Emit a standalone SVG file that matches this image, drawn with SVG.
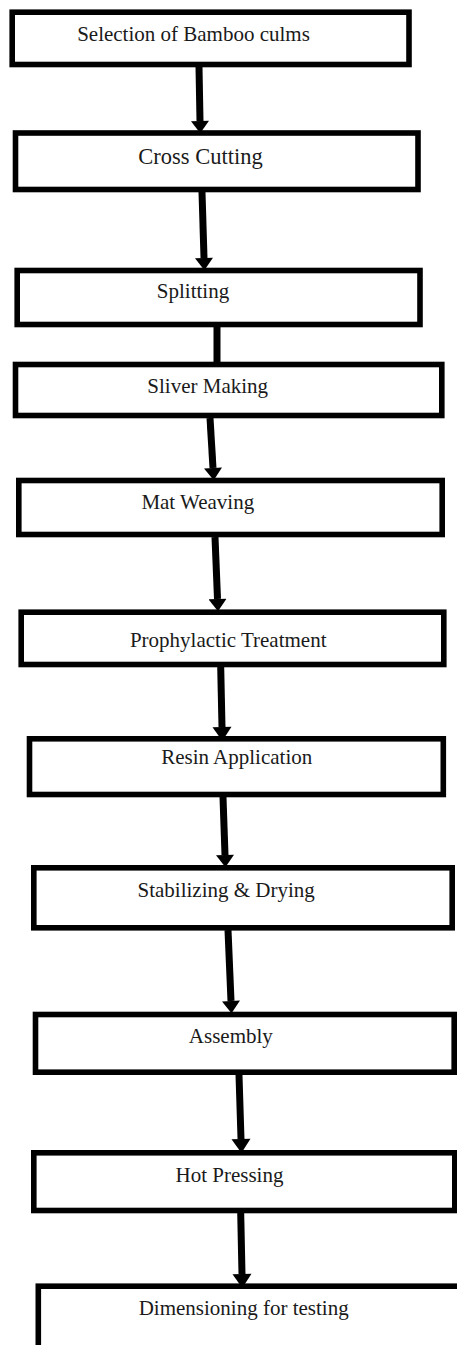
<svg xmlns="http://www.w3.org/2000/svg" width="457" height="1345" viewBox="0 0 457 1345">
<style>
.box{fill:#fff;stroke:#000;stroke-width:5.6}
.lbl{font-family:"Liberation Serif","Times New Roman",serif;font-size:21px;fill:#1a1a1a;text-anchor:middle}
.con{stroke:#000;stroke-width:7;fill:none}
</style>
<defs>
<marker id="hs" markerUnits="userSpaceOnUse" markerWidth="14" markerHeight="18" viewBox="0 -8 11 16" refX="0" refY="0" orient="auto"><path d="M0,-8 L11,0 L0,8 z" fill="#000"/></marker>
<marker id="hl" markerUnits="userSpaceOnUse" markerWidth="16" markerHeight="20" viewBox="0 -10 14 20" refX="0" refY="0" orient="auto"><path d="M0,-9.5 L14,0 L0,9.5 z" fill="#000"/></marker>
</defs>
<rect width="457" height="1345" fill="#fff"/>
<g id="n1"><rect class="box" x="12.2" y="12.2" width="396.8" height="52.3"/><text class="lbl" x="193.5" y="41">Selection of Bamboo culms</text></g>
<g id="n2"><rect class="box" x="15.5" y="133" width="402.5" height="56.5"/><text class="lbl" x="200.5" y="164" style="font-size:22.5px">Cross Cutting</text></g>
<g id="n3"><rect class="box" x="17.2" y="270.5" width="402.8" height="54"/><text class="lbl" x="193" y="298.3">Splitting</text></g>
<g id="n4"><rect class="box" x="15.5" y="364.5" width="426.3" height="51"/><text class="lbl" x="207.7" y="393.3">Sliver Making</text></g>
<g id="n5"><rect class="box" x="18.8" y="480.5" width="423.4" height="54"/><text class="lbl" x="197.8" y="509.3">Mat Weaving</text></g>
<g id="n6"><rect class="box" x="21.2" y="612.2" width="422.6" height="52.3"/><text class="lbl" x="228.2" y="646.7">Prophylactic Treatment</text></g>
<g id="n7"><rect class="box" x="29.5" y="738.8" width="413.8" height="55.7"/><text class="lbl" x="236.7" y="764">Resin Application</text></g>
<g id="n8"><rect class="box" x="33.8" y="867.8" width="418.4" height="60"/><text class="lbl" x="226.2" y="896.7">Stabilizing &amp; Drying</text></g>
<g id="n9"><rect class="box" x="35.5" y="1014.5" width="418.7" height="57.7"/><text class="lbl" x="230.8" y="1042.7">Assembly</text></g>
<g id="n10"><rect class="box" x="33.8" y="1152.8" width="421" height="57.7"/><text class="lbl" x="229.5" y="1181.7">Hot Pressing</text></g>
<g id="n11"><rect class="box" x="38.3" y="1286.2" width="430" height="100"/><text class="lbl" x="243.7" y="1315">Dimensioning for testing</text></g>
<g id="connectors">
<line class="con" x1="199" y1="67" x2="200" y2="121" marker-end="url(#hs)"/>
<line class="con" x1="202" y1="192" x2="204" y2="258" marker-end="url(#hs)"/>
<line class="con" x1="217" y1="327" x2="217" y2="364"/>
<line class="con" x1="210" y1="418" x2="213" y2="468" marker-end="url(#hs)"/>
<line class="con" x1="215" y1="537" x2="217.5" y2="599" marker-end="url(#hs)"/>
<line class="con" x1="220.7" y1="667" x2="222" y2="727" marker-end="url(#hl)"/>
<line class="con" x1="223" y1="797" x2="225" y2="855" marker-end="url(#hs)"/>
<line class="con" x1="228" y1="930" x2="231" y2="1001" marker-end="url(#hs)"/>
<line class="con" x1="239" y1="1075" x2="241" y2="1139" marker-end="url(#hl)"/>
<line class="con" x1="240.7" y1="1213" x2="242" y2="1274" marker-end="url(#hl)"/>
</g>
</svg>
